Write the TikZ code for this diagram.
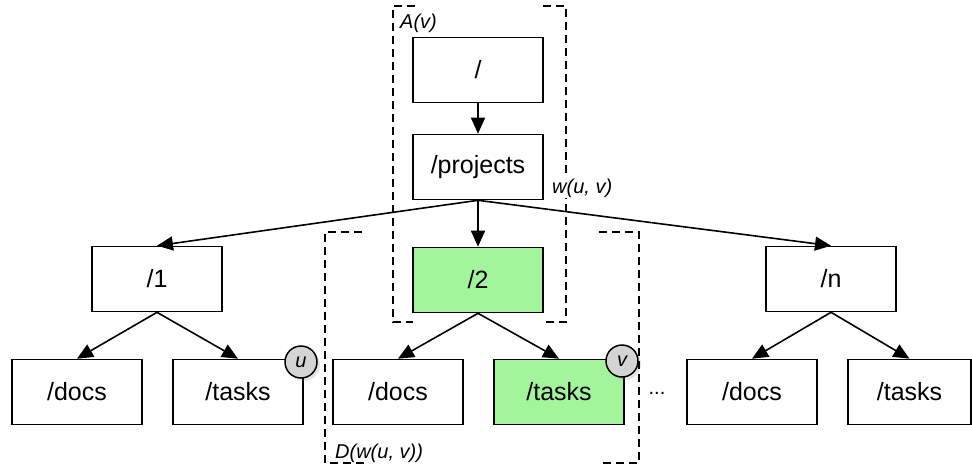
\documentclass[tikz,border=0pt]{standalone}
\usepackage{fontspec}
\setmainfont{Liberation Sans}
\usetikzlibrary{arrows.meta,shadows}
\definecolor{hitgreen}{HTML}{A3F59B}
\definecolor{taggray}{HTML}{D4D4D4}

\begin{document}
\begin{tikzpicture}[x=1pt, y=-1pt,
		every node/.style={font=\fontsize{25}{29}\selectfont},
		dir/.style={draw, line width=1.6pt, minimum width=130pt, minimum height=65pt, inner sep=0pt},
		found/.style={dir, fill=hitgreen},
		tag/.style={circle, draw, fill=taggray, line width=1.5pt, minimum size=32pt, inner sep=0pt,
			font=\fontsize{20}{24}\selectfont\itshape,
			drop shadow={shadow xshift=3pt, shadow yshift=-3pt, opacity=0.2}},
		link/.style={line width=1.6pt, -{Triangle[length=16pt, width=14pt]}},
		bound/.style={line width=1.5pt, dash pattern=on 8pt off 5pt},
		note/.style={anchor=base west, inner sep=0pt, font=\fontsize{20}{24}\selectfont\itshape}]

				\useasboundingbox (0,0) rectangle (972,467);

				% path down to the project
				\node[dir] (root) at (478,70) {/};
				\node[dir] (projects) at (478,167) {/projects};
				\draw[link] (root.south) -- (projects.north);

				\node[dir] (one) at (157,279) {/1};
				\node[found] (two) at (478,280) {/2};
				\node[dir] (last) at (831,279) {/n};
				\draw[link] (projects.south) -- (one.north);
				\draw[link] (projects.south) -- (two.north);
				\draw[link] (projects.south) -- (last.north);

				% leaves
				\node[dir] (docsone) at (77,392) {/docs};
				\node[dir] (tasksone) at (238,392) {/tasks};
				\node[dir] (docstwo) at (398,392) {/docs};
				\node[found] (taskstwo) at (559,392) {/tasks};
				\node[dir] (docslast) at (752,392) {/docs};
				\node[dir, minimum width=123pt] (taskslast) at (909.5,392) {/tasks};
				\draw[link] (one.south) -- (docsone.north);
				\draw[link] (one.south) -- (tasksone.north);
				\draw[link] (two.south) -- (docstwo.north);
				\draw[link] (two.south) -- (taskstwo.north);
				\draw[link] (last.south) -- (docslast.north);
				\draw[link] (last.south) -- (taskslast.north);
				\node (dots) at (657,393) [font=\fontsize{20}{24}\selectfont] {...};

				\node[tag] (u) at (301,362) {u};
				\node[tag] (v) at (622,361) {v};

				% A(v) and D(w(u, v))
				\draw[bound] (415,6) -- (393,6) -- (393,322) -- (413,322);
				\draw[bound] (543,6) -- (566,6) -- (566,322) -- (543,322);
				\draw[bound] (362,232) -- (325,232) -- (325,463) -- (365,463);
				\draw[bound] (599,232) -- (639,232) -- (639,463) -- (603,463);
				\node[note] (ancestors) at (400,28) {A(v)};
				\node[note, fill=white, inner sep=1pt] (meet) at (551,193) {w(u, v)};
				\node[note] (descendants) at (335,458) {D(w(u, v))};

			\end{tikzpicture}
\end{document}
